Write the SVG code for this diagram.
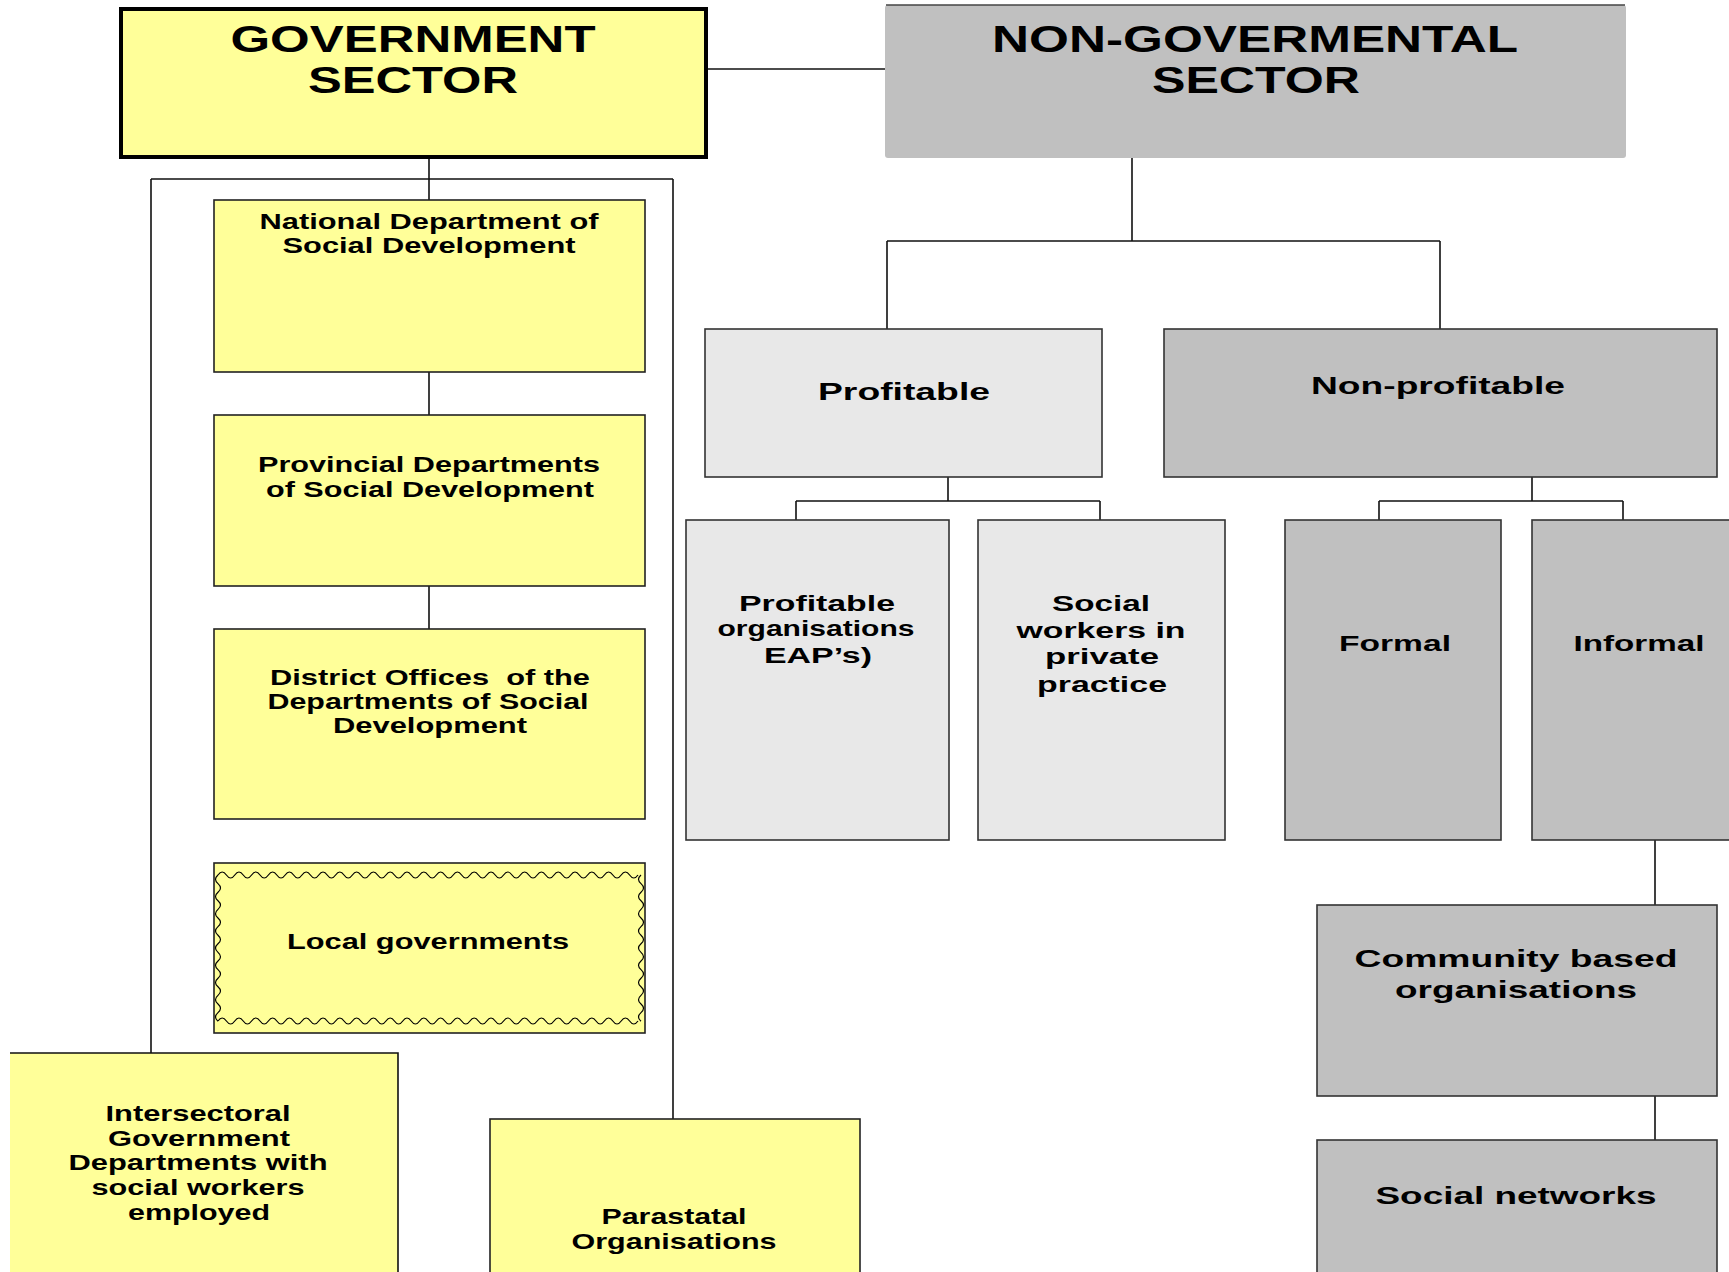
<svg xmlns="http://www.w3.org/2000/svg" width="1729" height="1272" viewBox="0 0 1729 1272">
<style>
text{font-family:"Liberation Sans",Arial,sans-serif;font-weight:bold;fill:#000;text-anchor:middle}
.y{fill:#ffff99;stroke:#222;stroke-width:1.6}
.lg{fill:#e8e8e8;stroke:#333;stroke-width:1.6}
.dg{fill:#c0c0c0;stroke:#333;stroke-width:1.6}
.c{fill:none;stroke:#111;stroke-width:1.6}
.w{fill:none;stroke:#000;stroke-width:1.2}
.h{font-size:36px}
.m{font-size:24px}
.s{font-size:22px}
</style>
<rect width="1729" height="1272" fill="#fff"/>
<g id="connectors">
<path class="c" d="M706 69H885"/>
<path class="c" d="M429 157V200M151 179H673M151 179V1053M673 179V1119"/>
<path class="c" d="M429 372V415M429 586V629"/>
<path class="c" d="M1132 158V241M887 241H1440M887 241V329M1440 241V329"/>
<path class="c" d="M948 477V501M796 501H1100M796 501V520M1100 501V520"/>
<path class="c" d="M1532 477V501M1379 501H1623M1379 501V520M1623 501V520"/>
<path class="c" d="M1655 840V905M1655 1096V1140"/>
</g>
<g id="gov">
<rect x="121" y="9" width="585" height="148" fill="#ffff99" stroke="#000" stroke-width="4"/>
<text class="h" x="413" y="52" textLength="365" lengthAdjust="spacingAndGlyphs">GOVERNMENT</text>
<text class="h" x="413" y="93" textLength="210" lengthAdjust="spacingAndGlyphs">SECTOR</text>
</g>
<g id="nongov">
<rect x="885" y="5" width="741" height="153" rx="3" fill="#c0c0c0"/>
<path d="M886 5H1625" stroke="#444" stroke-width="1.5"/>
<text class="h" x="1255" y="52" textLength="526" lengthAdjust="spacingAndGlyphs">NON-GOVERMENTAL</text>
<text class="h" x="1256" y="93" textLength="208" lengthAdjust="spacingAndGlyphs">SECTOR</text>
</g>
<g id="national">
<rect class="y" x="214" y="200" width="431" height="172"/>
<text class="s" x="429" y="229" textLength="339" lengthAdjust="spacingAndGlyphs">National Department of</text>
<text class="s" x="429" y="253" textLength="293" lengthAdjust="spacingAndGlyphs">Social Development</text>
</g>
<g id="provincial">
<rect class="y" x="214" y="415" width="431" height="171"/>
<text class="s" x="429" y="472" textLength="342" lengthAdjust="spacingAndGlyphs">Provincial Departments</text>
<text class="s" x="430" y="497" textLength="328" lengthAdjust="spacingAndGlyphs">of Social Development</text>
</g>
<g id="district">
<rect class="y" x="214" y="629" width="431" height="190"/>
<text class="s" x="430" y="685" textLength="320" lengthAdjust="spacingAndGlyphs" xml:space="preserve">District Offices  of the</text>
<text class="s" x="428" y="709" textLength="321" lengthAdjust="spacingAndGlyphs">Departments of Social</text>
<text class="s" x="430" y="733" textLength="194" lengthAdjust="spacingAndGlyphs">Development</text>
</g>
<g id="local">
<rect class="y" x="214" y="863" width="431" height="170"/>
<path class="w" d="M218 875q4.2 -6 8.4 0t8.4 0t8.4 0t8.4 0t8.4 0t8.4 0t8.4 0t8.4 0t8.4 0t8.4 0t8.4 0t8.4 0t8.4 0t8.4 0t8.4 0t8.4 0t8.4 0t8.4 0t8.4 0t8.4 0t8.4 0t8.4 0t8.4 0t8.4 0t8.4 0t8.4 0t8.4 0t8.4 0t8.4 0t8.4 0t8.4 0t8.4 0t8.4 0t8.4 0t8.4 0t8.4 0t8.4 0t8.4 0t8.4 0t8.4 0t8.4 0t8.4 0t8.4 0t8.4 0t8.4 0t8.4 0t8.4 0t8.4 0t8.4 0t8.4 0"/>
<path class="w" d="M218 1021q4.2 -6 8.4 0t8.4 0t8.4 0t8.4 0t8.4 0t8.4 0t8.4 0t8.4 0t8.4 0t8.4 0t8.4 0t8.4 0t8.4 0t8.4 0t8.4 0t8.4 0t8.4 0t8.4 0t8.4 0t8.4 0t8.4 0t8.4 0t8.4 0t8.4 0t8.4 0t8.4 0t8.4 0t8.4 0t8.4 0t8.4 0t8.4 0t8.4 0t8.4 0t8.4 0t8.4 0t8.4 0t8.4 0t8.4 0t8.4 0t8.4 0t8.4 0t8.4 0t8.4 0t8.4 0t8.4 0t8.4 0t8.4 0t8.4 0t8.4 0t8.4 0"/>
<path class="w" d="M218 875q-5 4.3 0 8.6t0 8.6t0 8.6t0 8.6t0 8.6t0 8.6t0 8.6t0 8.6t0 8.6t0 8.6t0 8.6t0 8.6t0 8.6t0 8.6t0 8.6t0 8.6t0 8.6"/>
<path class="w" d="M641 875q-5 4.3 0 8.6t0 8.6t0 8.6t0 8.6t0 8.6t0 8.6t0 8.6t0 8.6t0 8.6t0 8.6t0 8.6t0 8.6t0 8.6t0 8.6t0 8.6t0 8.6t0 8.6"/>
<text class="s" x="428" y="949" textLength="282" lengthAdjust="spacingAndGlyphs">Local governments</text>
</g>
<g id="intersectoral">
<rect x="10" y="1053" width="388" height="230" fill="#ffff99"/>
<path class="c" d="M10 1053H398V1272"/>
<text class="s" x="198" y="1121" textLength="185" lengthAdjust="spacingAndGlyphs">Intersectoral</text>
<text class="s" x="199" y="1146" textLength="182" lengthAdjust="spacingAndGlyphs">Government</text>
<text class="s" x="198" y="1170" textLength="259" lengthAdjust="spacingAndGlyphs">Departments with</text>
<text class="s" x="198" y="1195" textLength="213" lengthAdjust="spacingAndGlyphs">social workers</text>
<text class="s" x="199" y="1220" textLength="142" lengthAdjust="spacingAndGlyphs">employed</text>
</g>
<g id="parastatal">
<rect class="y" x="490" y="1119" width="370" height="170"/>
<text class="s" x="674" y="1224" textLength="145" lengthAdjust="spacingAndGlyphs">Parastatal</text>
<text class="s" x="674" y="1249" textLength="205" lengthAdjust="spacingAndGlyphs">Organisations</text>
</g>
<g id="profitable">
<rect class="lg" x="705" y="329" width="397" height="148"/>
<text class="m" x="904" y="400" textLength="172" lengthAdjust="spacingAndGlyphs">Profitable</text>
</g>
<g id="nonprofitable">
<rect class="dg" x="1164" y="329" width="553" height="148"/>
<text class="m" x="1438" y="394" textLength="254" lengthAdjust="spacingAndGlyphs">Non-profitable</text>
</g>
<g id="profitorgs">
<rect class="lg" x="686" y="520" width="263" height="320"/>
<text class="s" x="817" y="611" textLength="156" lengthAdjust="spacingAndGlyphs">Profitable</text>
<text class="s" x="816" y="636" textLength="197" lengthAdjust="spacingAndGlyphs">organisations</text>
<text class="s" x="818" y="663" textLength="108" lengthAdjust="spacingAndGlyphs">EAP’s)</text>
</g>
<g id="privatepractice">
<rect class="lg" x="978" y="520" width="247" height="320"/>
<text class="s" x="1101" y="611" textLength="98" lengthAdjust="spacingAndGlyphs">Social</text>
<text class="s" x="1101" y="638" textLength="169" lengthAdjust="spacingAndGlyphs">workers in</text>
<text class="s" x="1102" y="664" textLength="114" lengthAdjust="spacingAndGlyphs">private</text>
<text class="s" x="1102" y="692" textLength="130" lengthAdjust="spacingAndGlyphs">practice</text>
</g>
<g id="formal">
<rect class="dg" x="1285" y="520" width="216" height="320"/>
<text class="s" x="1395" y="651" textLength="112" lengthAdjust="spacingAndGlyphs">Formal</text>
</g>
<g id="informal">
<rect class="dg" x="1532" y="520" width="210" height="320"/>
<text class="s" x="1639" y="651" textLength="131" lengthAdjust="spacingAndGlyphs">Informal</text>
</g>
<g id="community">
<rect class="dg" x="1317" y="905" width="400" height="191"/>
<text class="m" x="1516" y="967" textLength="323" lengthAdjust="spacingAndGlyphs">Community based</text>
<text class="m" x="1516" y="998" textLength="242" lengthAdjust="spacingAndGlyphs">organisations</text>
</g>
<g id="socialnetworks">
<rect class="dg" x="1317" y="1140" width="400" height="150"/>
<text class="m" x="1516" y="1204" textLength="281" lengthAdjust="spacingAndGlyphs">Social networks</text>
</g>
</svg>
